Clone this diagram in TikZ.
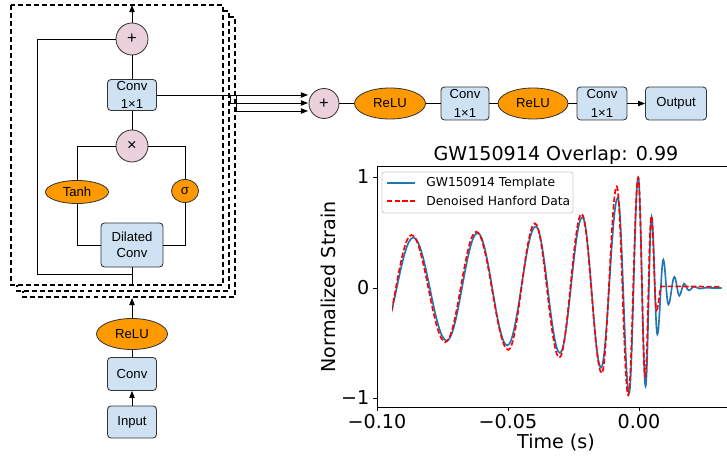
\documentclass[tikz,border=0pt]{standalone}
\usepackage{fontspec}
\setmainfont{Liberation Sans}
\newfontfamily\plotfont{DejaVu Sans}
\usetikzlibrary{arrows.meta,shapes.geometric}
\definecolor{convblue}{HTML}{CFE2F3}
\definecolor{actorange}{HTML}{FF9900}
\definecolor{oppink}{HTML}{EAD1DC}
\definecolor{tplblue}{HTML}{1F77B4}
\tikzset{
  blk/.style={rectangle,rounded corners=3pt,draw=black!80,fill=convblue,line width=0.7pt,inner sep=0pt,align=center,minimum width=1.47cm,minimum height=0.99cm},
  actv/.style={ellipse,draw=black!80,fill=actorange,line width=0.7pt,inner sep=0pt,minimum width=2.13cm,minimum height=0.93cm},
  opc/.style={circle,draw=black!80,fill=oppink,line width=0.7pt,inner sep=0pt,minimum size=0.96cm,font=\fontsize{14}{14}\selectfont},
  wire/.style={line width=0.8pt},
  pipe/.style={wire,-{Triangle[length=6pt,width=4.5pt]}},
  stackbox/.style={draw=black,fill=white,line width=1pt,dash pattern=on 4.2pt off 2.6pt},
  tmpl/.style={draw=tplblue,line width=1.4pt},
  hanf/.style={draw=red,line width=1.4pt,dash pattern=on 4.6pt off 2pt},
  axis/.style={line width=0.8pt},
  plotbig/.style={font=\plotfont\fontsize{16.3}{19}\selectfont},
  plotsmall/.style={font=\plotfont\fontsize{10.5}{12}\selectfont},
}

\begin{document}
\begin{tikzpicture}[x=0.03cm,y=-0.03cm,font=\fontsize{11.2}{15.9}\selectfont]
  \useasboundingbox (0,0) rectangle (727,457);
  % stacked residual blocks
  \foreach \k in {2,1,0}
    \draw[stackbox] ({11+6*\k},{5+6*\k}) rectangle ({223+6*\k},{285+6*\k});
  \coordinate (blkout) at (132,5);
  \coordinate (blkbot) at (132,285);
  \coordinate (blkin) at (132,298);
  \coordinate (skipc) at (37,274);

  \node[opc] (addL) at (132,39) {+};
  \node[blk,minimum height=0.93cm] (proj) at (132,95) {Conv\\1×1};
  \node[opc] (mult) at (132,146) {×};
  \node[actv,minimum width=1.89cm,minimum height=0.69cm] (tanh) at (77,192) {Tanh};
  \node[actv,minimum width=0.81cm,minimum height=0.69cm] (gate) at (185,191) {σ};
  \node[blk,minimum width=1.86cm,minimum height=1.32cm,font=\fontsize{11.2}{13.3}\selectfont] (dil) at (132,245) {Dilated\\Conv};

  \draw[pipe] (addL) -- (blkout);
  \draw[wire] (proj) -- (addL);
  \draw[wire] (mult) -- (proj);
  \draw[wire] (mult.west) -| (tanh.north);
  \draw[wire] (tanh.south) |- (dil.west);
  \draw[wire] (mult.east) -| (gate.north);
  \draw[wire] (gate.south) |- (dil.east);
  \draw[wire] (addL.west) -| (skipc) -- (skipc -| dil);
  \draw[wire] (dil) -- (blkbot);

  % input stem
  \node[actv] (reluB) at (132,334) {ReLU};
  \node[blk] (convB) at (132,374) {Conv};
  \node[blk,minimum height=0.96cm] (input) at (132,422) {Input};
  \draw[pipe] (input) -- (convB);
  \draw[wire] (convB) -- (reluB);
  \draw[pipe] (reluB) -- (blkin);

  % output head
  \node[opc,minimum size=0.9cm] (addR) at (324,103.5) {+};
  \node[actv] (reluR1) at (390,103.5) {ReLU};
  \node[blk,minimum width=1.44cm] (convR1) at (465,103.5) {Conv\\1×1};
  \node[actv,minimum width=2.1cm] (reluR2) at (533,103.5) {ReLU};
  \node[blk,minimum width=1.5cm] (convR2) at (602,103.5) {Conv\\1×1};
  \node[blk,minimum width=1.83cm] (output) at (676,103.5) {Output};
  \coordinate (s1) at (308,95);
  \coordinate (s2) at (308,103);
  \coordinate (s3) at (308,111);
  \coordinate (b2) at (230,95);
  \coordinate (b3) at (236,95);
  \draw[pipe] (proj.east) -- (s1);
  \draw[pipe] (b2) |- (s2);
  \draw[pipe] (b3) |- (s3);
  \draw[wire] (addR) -- (reluR1);
  \draw[wire] (reluR1) -- (convR1);
  \draw[wire] (convR1) -- (reluR2);
  \draw[wire] (reluR2) -- (convR2);
  \draw[pipe] (convR2) -- (output);

  % overlap plot
  \begin{scope}[shift={(639,288)},x=78.6cm,y=3.315cm]
    \clip (-0.0942,-1.2) rectangle (0.0315,1.2);
    \draw[tmpl] (-0.0988,-0.45)
      \foreach \t/\v [remember=\t as \tp (initially -0.0988)] in {-0.0861/0.457,-0.0734/-0.477,-0.0616/0.498,-0.0503/-0.52,-0.0394/0.558,-0.0302/-0.588,-0.0216/0.642,-0.0145/-0.72,-0.0081/0.817,-0.0038/-0.95,-0.0003/1.0,0.0025/-0.89,0.0048/0.645,0.0070/-0.42,0.0093/0.255,0.0112/-0.15,0.0135/0.10,0.0154/-0.07,0.0172/0.04,0.0190/-0.022,0.0210/0.012,0.0232/-0.006,0.0255/0.003,0.0280/0,0.0330/0}
      { .. controls +({0.3634*(\t-\tp)},0) and +({-0.3634*(\t-\tp)},0) .. (\t,\v) };
    \draw[hanf] (-0.0997,-0.6)
      \foreach \t/\v [remember=\t as \tp (initially -0.0997)] in {-0.0868/0.48,-0.0739/-0.49,-0.0621/0.51,-0.0499/-0.56,-0.0397/0.585,-0.0304/-0.63,-0.0219/0.67,-0.0142/-0.77,-0.0085/0.92,-0.0041/-0.97,-0.0003/1.0,0.0024/-0.8,0.0047/0.65,0.0067/-0.2,0.0086/0.015,0.0330/0.012}
      { .. controls +({0.3634*(\t-\tp)},0) and +({-0.3634*(\t-\tp)},0) .. (\t,\v) };
  \end{scope}
  \draw[axis] (727,166) -- (377,166) -- (377,407) -- (727,407);
  \foreach \xp/\lab in {377/−0.10,508/−0.05,639/0.00}
    \draw[axis] (\xp,407) -- (\xp,411) node[plotbig,anchor=north,inner sep=0pt,yshift=-0.1cm] {\lab};
  \foreach \yp/\lab in {177/1,288/0,398/−1}
    \draw[axis] (377,\yp) -- (373,\yp) node[plotbig,anchor=east,inner sep=0pt,xshift=-0.1cm] {\lab};
  \node[plotbig,anchor=base] (ttl) at (556,161) {GW150914 Overlap: 0.99};
  \node[plotbig,anchor=base] (xlab) at (556,448) {Time (s)};
  \node[plotbig,anchor=base,rotate=90] (ylab) at (335,287) {Normalized Strain};
  % legend
  \draw[draw=black!20,fill=white,rounded corners=2pt,line width=0.7pt] (382,172) rectangle (573,213);
  \coordinate (k1) at (387,183);
  \coordinate (k2) at (387,201);
  \draw[tmpl] (k1) -- ++(28,0) node[plotsmall,right=0.2cm,text=black] {GW150914 Template};
  \draw[hanf] (k2) -- ++(28,0) node[plotsmall,right=0.2cm,text=black] {Denoised Hanford Data};
\end{tikzpicture}
\end{document}
